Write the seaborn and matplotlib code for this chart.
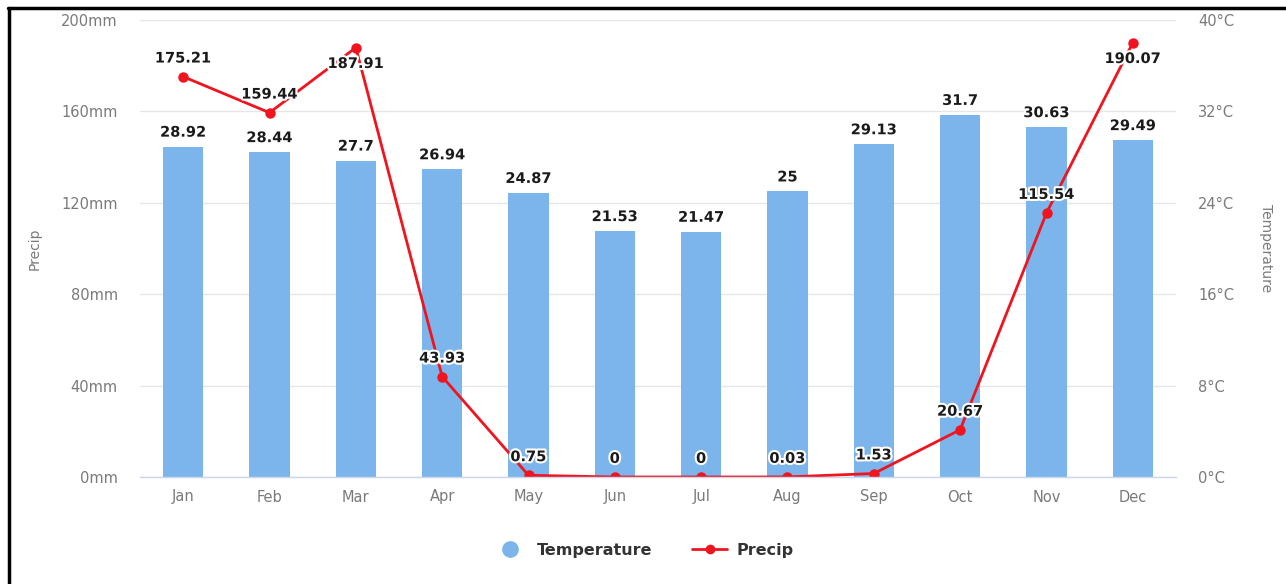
import matplotlib
matplotlib.use("Agg")
import matplotlib.pyplot as plt
import matplotlib.patheffects as pe
from matplotlib.lines import Line2D
import seaborn as sns
import pandas as pd

months = ["Jan", "Feb", "Mar", "Apr", "May", "Jun", "Jul", "Aug", "Sep", "Oct", "Nov", "Dec"]
temperature = [28.92, 28.44, 27.7, 26.94, 24.87, 21.53, 21.47, 25, 29.13, 31.7, 30.63, 29.49]
precip = [175.21, 159.44, 187.91, 43.93, 0.75, 0, 0, 0.03, 1.53, 20.67, 115.54, 190.07]
precip_ticks = [0, 40, 80, 120, 160, 200]
temp_ticks = [0, 8, 16, 24, 32, 40]

BAR = "#7cb5ec"
LINE = "#f0141e"
TICK = "#7a7a7a"
FONT = "DejaVu Sans"

sns.set_theme(style="white")
plt.rcParams["font.family"] = [FONT]

df = pd.DataFrame({"month": months, "temperature": temperature, "precip": precip})

fig = plt.figure(figsize=(12.86, 5.84), dpi=100)
ax = fig.add_axes([140 / 1286, 1 - 477 / 584, (1176 - 140) / 1286, (477 - 20) / 584])
ax2 = ax.twinx()

# temperature bars on the right axis
sns.barplot(data=df, x="month", y="temperature", ax=ax2, color=BAR, width=0.47,
            saturation=1, edgecolor="none", zorder=2)
ax2.set_ylim(0, 40)
ax2.set_yticks(temp_ticks)
ax2.set_yticklabels([f"{t}°C" for t in temp_ticks])
ax2.yaxis.grid(True, color="#e6e6e6", linewidth=1, zorder=0)
ax2.set_axisbelow(True)
ax2.set_ylabel("Temperature", rotation=270, color=TICK, fontsize=10, labelpad=28)

# precipitation line on the left axis
sns.pointplot(data=df, x="month", y="precip", ax=ax, color=LINE, markers="o",
              markersize=6, linewidth=2)
ax.set_ylim(0, 200)
ax.set_yticks(precip_ticks)
ax.set_yticklabels([f"{p}mm" for p in precip_ticks])
ax.set_ylabel("Precip", color=TICK, fontsize=10, labelpad=14)
ax.set_xlabel("")
ax2.set_xlabel("")
ax.set_xlim(-0.5, 11.5)

ax.set_zorder(ax2.get_zorder() + 1)
ax.patch.set_visible(False)
ax.grid(False)

for a in (ax, ax2):
    for s in a.spines.values():
        s.set_visible(False)
    a.tick_params(axis="both", length=0, labelsize=10.5, colors=TICK)
ax.spines["bottom"].set_visible(True)
ax.spines["bottom"].set_color("#ccd6eb")
ax.spines["bottom"].set_linewidth(1)
ax.tick_params(axis="y", pad=16)
ax.tick_params(axis="x", pad=9)
ax2.tick_params(axis="y", pad=16)

halo = [pe.withStroke(linewidth=3, foreground="white")]

for i, t in enumerate(temperature):
    ax2.annotate(f"{t:g}", (i, t), xytext=(0, 5), textcoords="offset points",
                 ha="center", va="bottom", fontsize=10.5, fontweight="bold",
                 color="#1a1a1a", path_effects=halo, zorder=5)

for i, p in enumerate(precip):
    near_top = p > 180
    ax.annotate(f"{p:g}", (i, p), xytext=(0, -6 if near_top else 8),
                textcoords="offset points", ha="center",
                va="top" if near_top else "bottom", fontsize=10.5,
                fontweight="bold", color="#1a1a1a", path_effects=halo, zorder=6)

handles = [
    Line2D([], [], linestyle="none", marker="o", markersize=11, color=BAR),
    Line2D([], [], color=LINE, linewidth=2, marker="o", markersize=6),
]
leg = fig.legend(handles, ["Temperature", "Precip"], loc="center",
                 bbox_to_anchor=(0.5, 1 - 550 / 584), ncol=2, frameon=False,
                 prop={"weight": "bold", "size": 11.5}, handlelength=2.2,
                 columnspacing=2.5, handletextpad=0.6)
for txt in leg.get_texts():
    txt.set_color("#333333")

# frame edges along the top and left of the image
fig.add_artist(Line2D([8 / 1286, 1], [1 - 8 / 584, 1 - 8 / 584], color="black",
                      linewidth=2.5, transform=fig.transFigure))
fig.add_artist(Line2D([9 / 1286, 9 / 1286], [0, 1 - 8 / 584], color="black",
                      linewidth=2.5, transform=fig.transFigure))

fig.savefig("out.png", dpi=100, facecolor="white")
